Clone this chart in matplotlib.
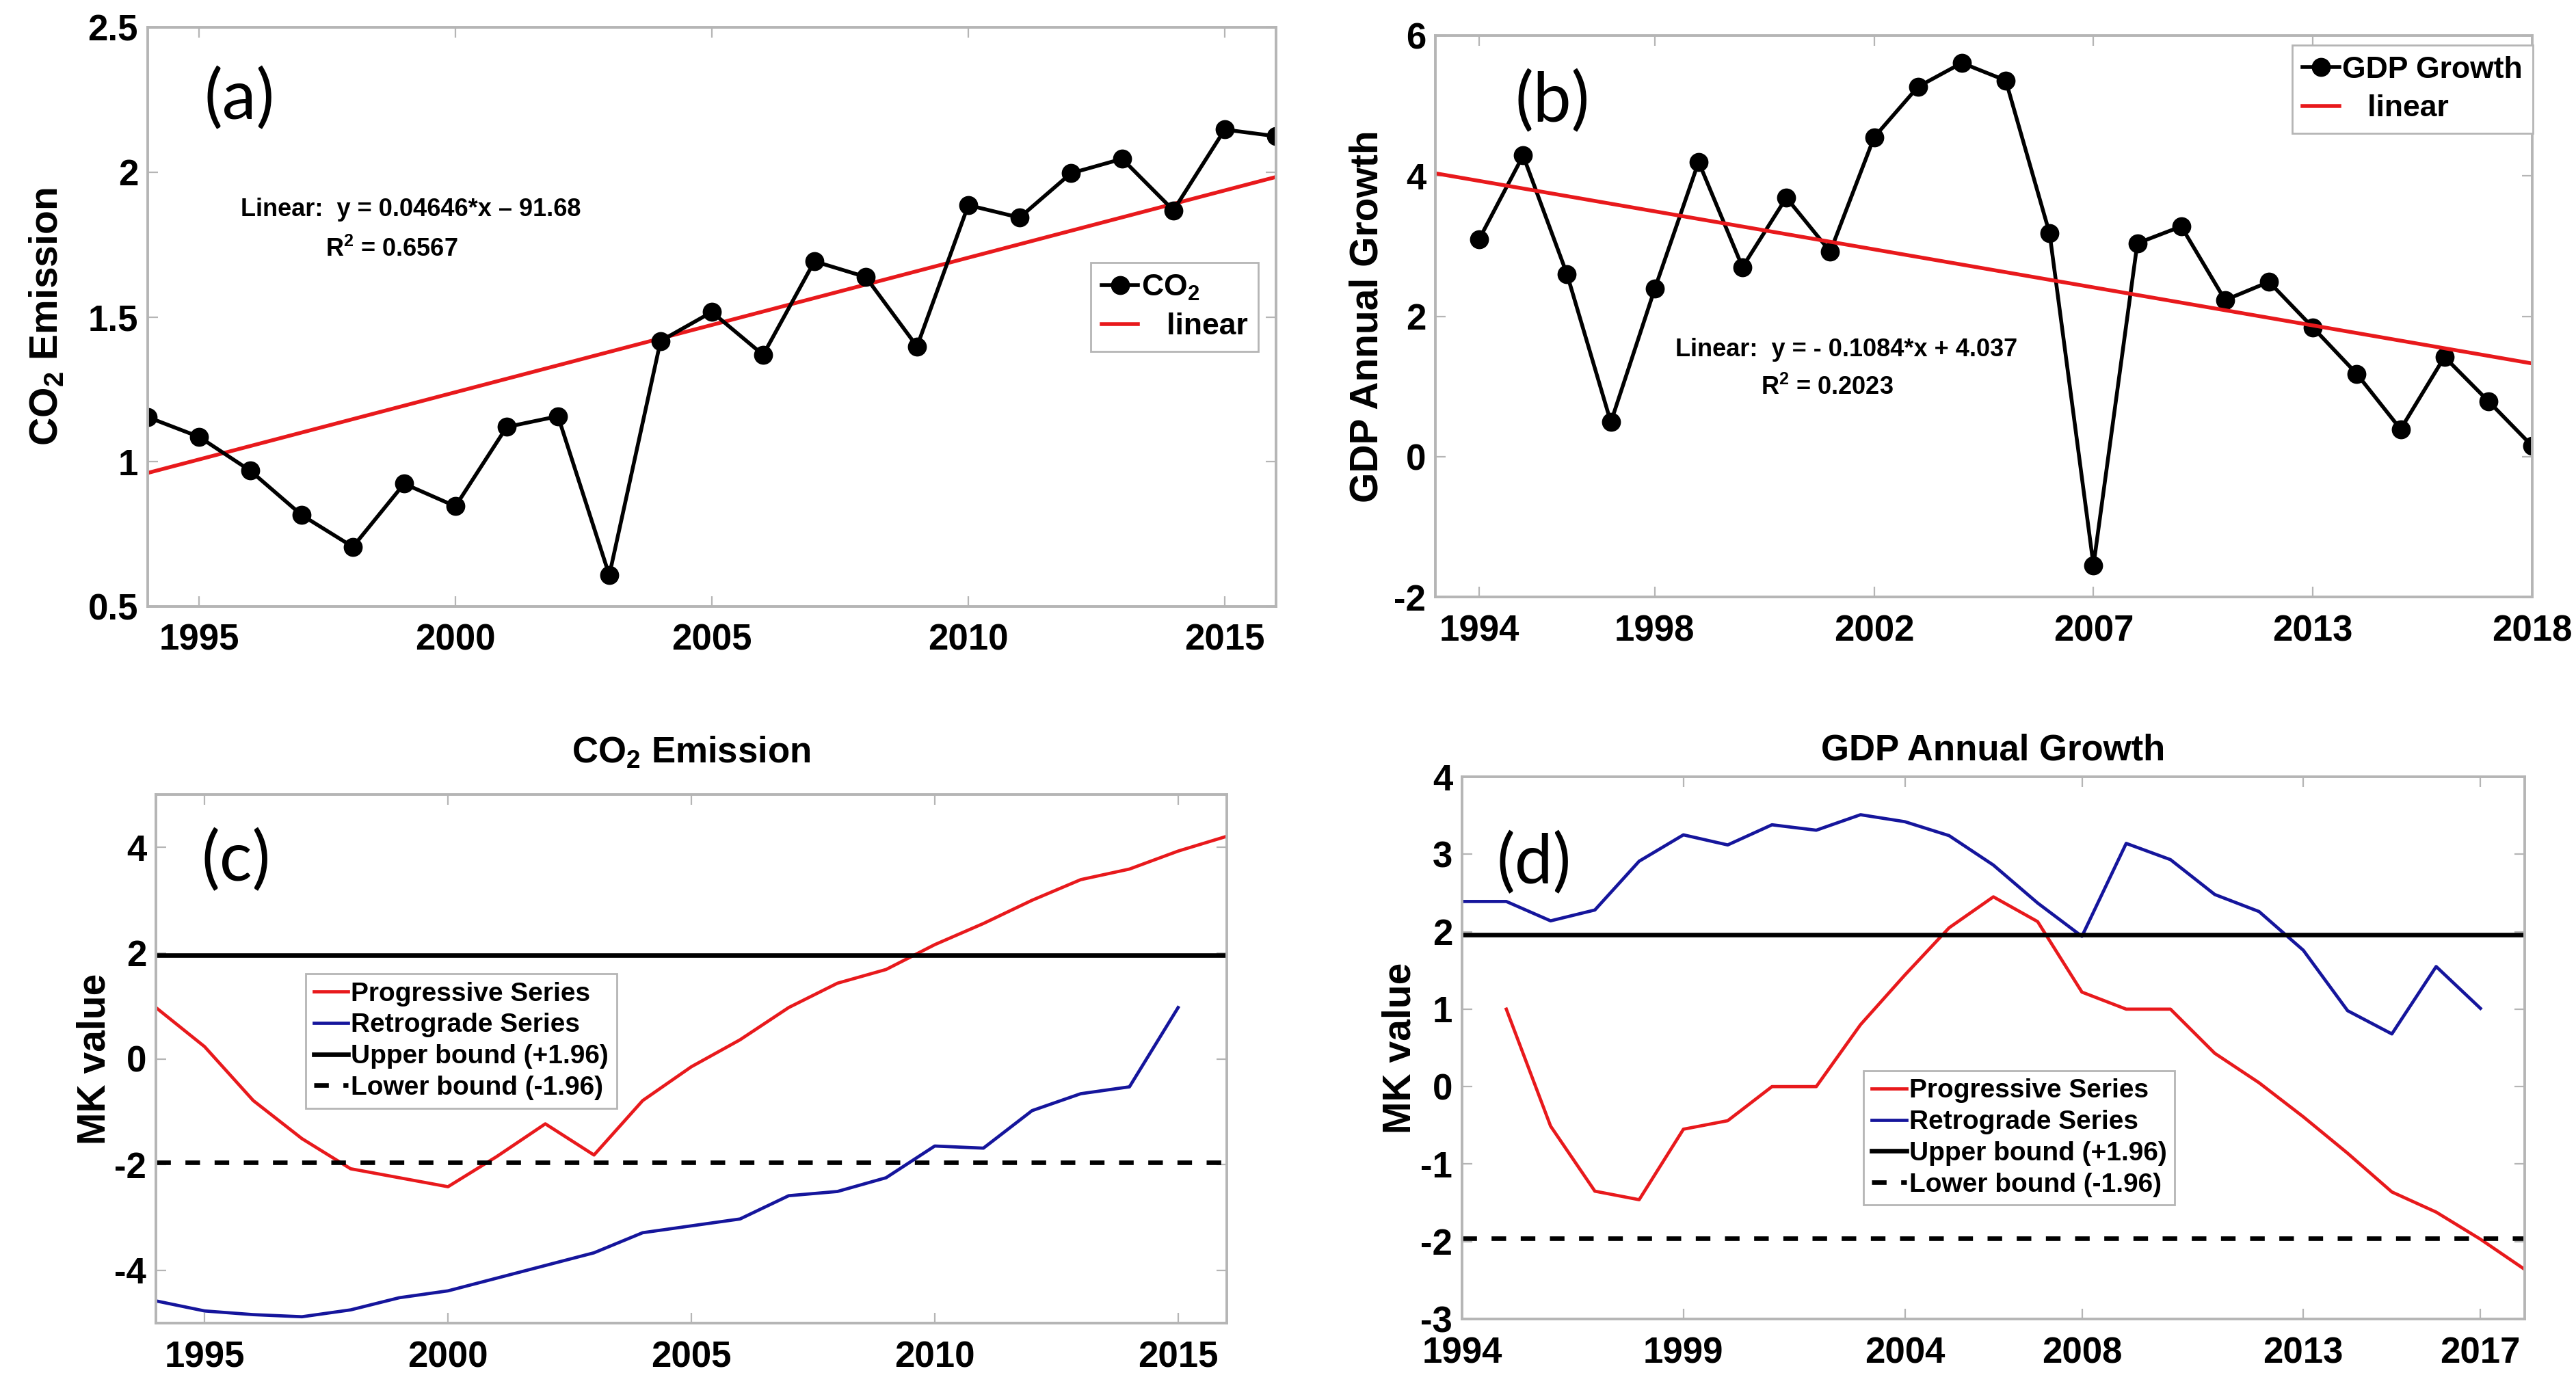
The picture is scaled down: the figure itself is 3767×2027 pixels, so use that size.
import matplotlib
matplotlib.use('Agg')
import matplotlib.pyplot as plt
import matplotlib.ticker as ticker
import numpy as np


### Data ###
# (a) CO2 emission per year
co2_years = list(range(1994, 2017))
co2_values = [1.154, 1.086, 0.969, 0.816, 0.706, 0.924, 0.846, 1.120, 1.157, 0.608,
              1.417, 1.517, 1.369, 1.692, 1.638, 1.398, 1.886, 1.843, 1.996, 2.046,
              1.868, 2.147, 2.124]
co2_slope, co2_intercept = 0.04646, -91.68

# (b) GDP growth, plotted against sample index (tick labels as in the source)
gdp_index = list(range(1, 26))
gdp_values = [3.10, 4.29, 2.60, 0.49, 2.39, 4.20, 2.70, 3.69, 2.92, 4.55,
              5.27, 5.61, 5.36, 3.18, -1.55, 3.04, 3.28, 2.23, 2.49, 1.84,
              1.18, 0.39, 1.42, 0.79, 0.15]
gdp_ticks = [1, 5, 10, 15, 20, 25]
gdp_ticklabels = ['1994', '1998', '2002', '2007', '2013', '2018']
gdp_slope, gdp_intercept = -0.1084, 4.037

# (c) Mann-Kendall, CO2
mk_co2_prog_years = list(range(1994, 2017))
mk_co2_prog = [0.97, 0.23, -0.79, -1.51, -2.08, -2.25, -2.42, -1.85, -1.23, -1.82,
               -0.79, -0.15, 0.36, 0.97, 1.43, 1.69, 2.16, 2.56, 3.00, 3.39,
               3.59, 3.93, 4.21]
mk_co2_retro_years = list(range(1994, 2016))
mk_co2_retro = [-4.58, -4.77, -4.84, -4.88, -4.75, -4.52, -4.39, -4.15, -3.91, -3.67,
                -3.29, -3.16, -3.03, -2.59, -2.51, -2.25, -1.65, -1.69, -0.98, -0.66,
                -0.53, 0.97]

# (d) Mann-Kendall, GDP
mk_gdp_prog_years = list(range(1995, 2019))
mk_gdp_prog = [1.00, -0.51, -1.35, -1.46, -0.55, -0.44, 0.00, 0.00, 0.80, 1.44,
               2.05, 2.45, 2.13, 1.22, 1.00, 1.00, 0.43, 0.05, -0.39, -0.86,
               -1.36, -1.62, -1.97, -2.36]
mk_gdp_retro_years = list(range(1994, 2018))
mk_gdp_retro = [2.39, 2.39, 2.14, 2.28, 2.91, 3.25, 3.12, 3.38, 3.31, 3.51,
                3.42, 3.24, 2.86, 2.37, 1.94, 3.14, 2.93, 2.48, 2.26, 1.76,
                0.98, 0.68, 1.55, 1.01]
mk_gdp_ticks = [1994, 1999, 2004, 2008, 2013, 2017]

upper_bound, lower_bound = 1.96, -1.96


### Style ###
plt.rcParams['font.family'] = 'Liberation Sans'
plt.rcParams['font.weight'] = 'bold'
plt.rcParams['axes.labelweight'] = 'bold'
plt.rcParams['axes.unicode_minus'] = False
plt.rcParams['mathtext.fontset'] = 'custom'
plt.rcParams['mathtext.rm'] = 'Liberation Sans:bold'
plt.rcParams['mathtext.bf'] = 'Liberation Sans:bold'
plt.rcParams['mathtext.default'] = 'bf'

SPINE = '#b5b5b5'
RED = '#e8191c'
BLUE = '#15159c'
TICKFS = 19
LABFS = 20.5


def matlab_axes(ax):
    for s in ax.spines.values():
        s.set_color(SPINE)
        s.set_linewidth(1.4)
    ax.tick_params(direction='in', top=True, right=True, length=5.5, width=0.8,
                   color=SPINE, labelsize=TICKFS, labelcolor='black')
    ax.tick_params(axis='x', pad=9)
    ax.tick_params(axis='y', pad=5)


def panel_letter(ax, s, x, y):
    ax.text(x, y, s, transform=ax.transAxes, fontsize=36, fontweight='normal',
            family='Lato', ha='center', va='center')


W, H = 3767, 2027
fig = plt.figure(figsize=(W / 200, H / 200), dpi=200)

# ---- (a) ----
ax = fig.add_axes([216 / W, 1 - 887 / H, 1650 / W, 847 / H])
matlab_axes(ax)
xa = np.array([1993.0, 2017.0])
ax.plot(xa, co2_slope * xa + co2_intercept, color=RED, lw=2.0, label='   linear')
ax.plot(co2_years, co2_values, color='black', lw=2.0, marker='o', ms=9,
        label='CO$_2$')
ax.set_xlim(1994, 2016)
ax.set_ylim(0.5, 2.5)
ax.set_xticks(range(1995, 2016, 5))
ax.set_yticks([0.5, 1, 1.5, 2, 2.5])
ax.yaxis.set_major_formatter(ticker.FormatStrFormatter('%g'))
ax.set_ylabel('CO$_2$ Emission', fontsize=LABFS, fontweight='bold')
ax.yaxis.set_label_coords(-0.073, 0.5)
h, l = ax.get_legend_handles_labels()
ax.legend(h[::-1], l[::-1], loc='upper left', bbox_to_anchor=(0.836, 0.594),
          fontsize=16, fancybox=False, edgecolor=SPINE, framealpha=1,
          handlelength=1.2, handletextpad=0.1, borderpad=0.35, labelspacing=0.35,
          borderaxespad=0)
ax.text(0.233, 0.685, 'Linear:  y = 0.04646*x \u2013 91.68', transform=ax.transAxes,
        fontsize=13, ha='center', va='center')
ax.text(0.216, 0.616, 'R$^2$ = 0.6567', transform=ax.transAxes,
        fontsize=13, ha='center', va='center')
panel_letter(ax, '(a)', 0.081, 0.876)

# ---- (b) ----
ax = fig.add_axes([2099 / W, 1 - 873 / H, 1604 / W, 821 / H])
matlab_axes(ax)
xb = np.array([0.0, 25.0])
ax.plot(gdp_index, gdp_values, color='black', lw=2.0, marker='o', ms=9,
        label='GDP Growth')
ax.plot(xb, gdp_slope * xb + gdp_intercept, color=RED, lw=2.0, label='   linear')
ax.set_xlim(0, 25)
ax.set_ylim(-2, 6)
ax.set_xticks(gdp_ticks)
ax.set_xticklabels(gdp_ticklabels)
ax.set_yticks(range(-2, 7, 2))
ax.set_ylabel('GDP Annual Growth', fontsize=LABFS, fontweight='bold')
ax.yaxis.set_label_coords(-0.045, 0.5)
ax.legend(loc='upper left', bbox_to_anchor=(0.781, 0.983),
          fontsize=16, fancybox=False, edgecolor=SPINE, framealpha=1,
          handlelength=1.2, handletextpad=0.1, borderpad=0.35, labelspacing=0.35,
          borderaxespad=0)
ax.text(0.375, 0.44, 'Linear:  y = - 0.1084*x + 4.037', transform=ax.transAxes,
        fontsize=13, ha='center', va='center')
ax.text(0.357, 0.373, 'R$^2$ = 0.2023', transform=ax.transAxes,
        fontsize=13, ha='center', va='center')
panel_letter(ax, '(b)', 0.107, 0.882)


def mk_panel(ax, prog_x, prog_y, retro_x, retro_y, legend_anchor):
    matlab_axes(ax)
    ax.plot(prog_x, prog_y, color=RED, lw=1.7, label='Progressive Series')
    ax.plot(retro_x, retro_y, color=BLUE, lw=1.7, label='Retrograde Series')
    ax.axhline(upper_bound, color='black', lw=2.4, label='Upper bound (+1.96)')
    ax.axhline(lower_bound, color='black', lw=2.4, ls=(0, (3.2, 3.2)),
               label='Lower bound (-1.96)')
    ax.set_ylabel('MK value', fontsize=LABFS, fontweight='bold')
    ax.legend(loc='upper left', bbox_to_anchor=legend_anchor,
              fontsize=14, fancybox=False, edgecolor=SPINE, framealpha=1,
              handlelength=1.3, handletextpad=0.1, borderpad=0.3,
              labelspacing=0.25, borderaxespad=0)


# ---- (c) ----
ax = fig.add_axes([228 / W, 1 - 1935 / H, 1566 / W, 773 / H])
mk_panel(ax, mk_co2_prog_years, mk_co2_prog, mk_co2_retro_years, mk_co2_retro,
         (0.140, 0.661))
ax.set_xlim(1994, 2016)
ax.set_ylim(-5, 5)
ax.set_xticks(range(1995, 2016, 5))
ax.set_yticks(range(-4, 5, 2))
ax.yaxis.set_label_coords(-0.040, 0.5)
ax.text(0.5, 1.079, 'CO$_2$ Emission', transform=ax.transAxes, fontsize=19,
        ha='center', va='center')
panel_letter(ax, '(c)', 0.075, 0.875)

# ---- (d) ----
ax = fig.add_axes([2138 / W, 1 - 1929 / H, 1554 / W, 793 / H])
mk_panel(ax, mk_gdp_prog_years, mk_gdp_prog, mk_gdp_retro_years, mk_gdp_retro,
         (0.378, 0.458))
ax.set_xlim(1994, 2018)
ax.set_ylim(-3, 4)
ax.set_xticks(mk_gdp_ticks)
ax.set_yticks(range(-3, 5))
ax.yaxis.set_label_coords(-0.041, 0.5)
ax.text(0.5, 1.048, 'GDP Annual Growth', transform=ax.transAxes, fontsize=19,
        ha='center', va='center')
panel_letter(ax, '(d)', 0.068, 0.84)

fig.savefig('out.png', dpi=200, facecolor='white')
